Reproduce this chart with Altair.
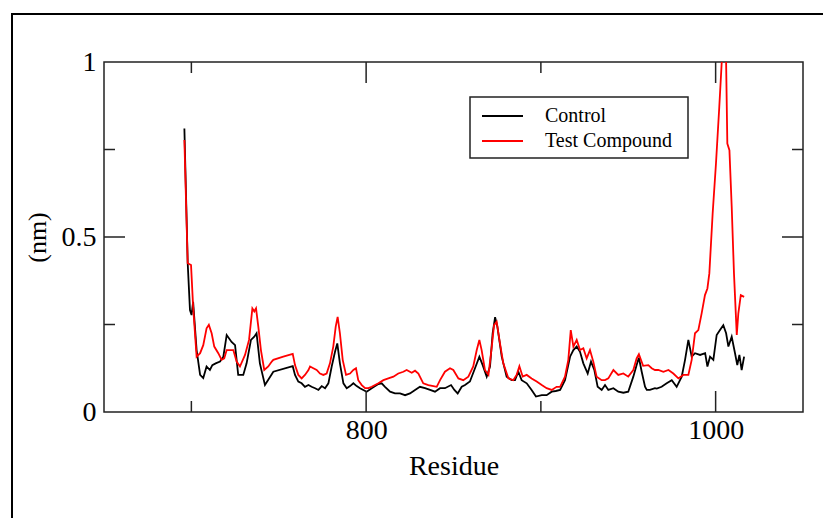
import altair as alt
import pandas as pd

# ---------------- data ----------------
ctrl_res = [696, 697.9, 699.2, 700.1, 701, 703, 705, 706.8, 708.7, 710.6, 712, 713.9, 716.4, 718.3,
            720.2, 723, 725, 726.8, 729.7, 731.6, 734.1, 736, 737.3, 739.2, 742.1, 744, 746.9, 758,
            759.3, 761.2, 763.1, 765, 767, 768.8, 770.8, 772.7, 774.6, 776.5, 778.4, 780.3, 782.2,
            783.5, 785, 787, 788.9, 790.8, 792.7, 794.6, 796.5, 798.4, 800.3, 803.2, 807, 808.9,
            810.8, 813.7, 816.5, 819.4, 822.3, 825.1, 828, 830.8, 833.7, 836.6, 839.4, 842.3, 845.1,
            848.6, 850.5, 852.4, 854.7, 856.6, 859.4, 862.3, 864.8, 866.7, 869, 870.9, 872.4, 873.8,
            875.1, 877.6, 880.4, 883.3, 885.2, 887.1, 889, 891.9, 894.7, 897.2, 900.5, 903.3, 906.2,
            908.5, 911, 913.8, 916.7, 918.6, 920.5, 922.4, 924.3, 926.8, 928.7, 930.6, 932.5, 934.8,
            936.7, 938.6, 941.5, 944.3, 947.2, 950, 952.9, 954.8, 956.1, 957.7, 959.6, 960.6, 962.4,
            965.3, 966.3, 969.1, 972, 974.9, 977.7, 980.6, 982.5, 984.4, 986.3, 988.2, 991.1, 994,
            995.3, 996.8, 998.7, 1000.6, 1002.5, 1004.4, 1006, 1007.3, 1009.2, 1011.1, 1012.4,
            1013.6, 1014.9, 1016.3]
ctrl_val = [0.81, 0.425, 0.291, 0.277, 0.315, 0.177, 0.106, 0.097, 0.130, 0.12, 0.134, 0.139, 0.144,
            0.158, 0.22, 0.20, 0.191, 0.106, 0.106, 0.139, 0.206, 0.215, 0.225, 0.139, 0.077, 0.092,
            0.115, 0.131, 0.106, 0.087, 0.082, 0.072, 0.077, 0.072, 0.068, 0.063, 0.074, 0.068, 0.082,
            0.130, 0.172, 0.196, 0.139, 0.082, 0.068, 0.074, 0.082, 0.074, 0.068, 0.063, 0.058, 0.068,
            0.080, 0.082, 0.072, 0.058, 0.053, 0.053, 0.048, 0.053, 0.063, 0.072, 0.068, 0.063, 0.058,
            0.068, 0.068, 0.077, 0.063, 0.053, 0.072, 0.077, 0.087, 0.125, 0.158, 0.134, 0.101, 0.130,
            0.225, 0.271, 0.244, 0.158, 0.101, 0.091, 0.091, 0.115, 0.091, 0.082, 0.063, 0.044, 0.048,
            0.048, 0.058, 0.06, 0.063, 0.091, 0.158, 0.177, 0.187, 0.172, 0.139, 0.110, 0.144, 0.120,
            0.072, 0.063, 0.077, 0.063, 0.068, 0.058, 0.055, 0.058, 0.101, 0.134, 0.155, 0.115, 0.072,
            0.063, 0.063, 0.068, 0.067, 0.072, 0.082, 0.091, 0.072, 0.101, 0.149, 0.206, 0.158, 0.168,
            0.163, 0.168, 0.130, 0.158, 0.149, 0.220, 0.234, 0.248, 0.225, 0.187, 0.215, 0.168, 0.134,
            0.163, 0.120, 0.158]

test_res = [696, 697.9, 699.8, 701, 703, 705, 706.8, 708.7, 710, 711.6, 713.1, 715.4, 717.3, 718.8,
            720.2, 724, 725.9, 727.8, 730.7, 733, 734.9, 736, 737, 738.3, 739.8, 741.7, 744, 746,
            746.9, 752.6, 758, 759.3, 761.2, 763.1, 765, 767, 767.9, 769.8, 771.7, 773.6, 775.5,
            777.4, 779.3, 781.2, 782.6, 783.7, 785, 786.6, 788.5, 790.8, 792.7, 794.2, 795.5, 797.5,
            799.4, 801.3, 803.2, 807, 809.9, 812.7, 815.6, 818.4, 821.3, 823.2, 826.1, 828, 829.9,
            832.7, 835.6, 838.5, 840.4, 842.3, 845.1, 848, 849.9, 852.8, 855.6, 858.5, 861.3, 863.3,
            864.8, 866.1, 868, 870, 871.8, 873.2, 874.7, 876.6, 878.5, 881.4, 884.2, 886.1, 887.7,
            889.6, 891.9, 894.7, 897.6, 900.5, 903.3, 906.2, 909, 911, 913.8, 915.7, 917.1, 918.6,
            920.5, 922.4, 924.3, 926.2, 928.1, 930, 931.9, 934.8, 936.7, 938.6, 941.5, 944.3, 947.2,
            950, 952.9, 954.8, 956.1, 958.5, 961.5, 963.4, 965.3, 967.2, 970.1, 973, 975.8, 978.7,
            981.5, 984.4, 986.3, 988.2, 990.1, 992, 993.9, 995.3, 996.4, 998.3, 1000.2, 1002.1,
            1003.5, 1004.8, 1006, 1006.7, 1007.9, 1009.2, 1010.5, 1012.1, 1013, 1014.4, 1016.3]
test_val = [0.777, 0.425, 0.42, 0.301, 0.158, 0.168, 0.191, 0.239, 0.249, 0.225, 0.187, 0.168, 0.149,
            0.153, 0.177, 0.177, 0.144, 0.130, 0.163, 0.206, 0.296, 0.287, 0.296, 0.244, 0.177, 0.120,
            0.130, 0.144, 0.149, 0.158, 0.166, 0.134, 0.106, 0.096, 0.106, 0.120, 0.130, 0.125, 0.120,
            0.110, 0.106, 0.110, 0.139, 0.187, 0.244, 0.272, 0.225, 0.149, 0.106, 0.110, 0.120, 0.125,
            0.091, 0.077, 0.068, 0.068, 0.072, 0.082, 0.091, 0.096, 0.101, 0.110, 0.115, 0.120, 0.112,
            0.118, 0.110, 0.082, 0.077, 0.074, 0.072, 0.091, 0.115, 0.125, 0.120, 0.096, 0.091, 0.101,
            0.130, 0.177, 0.206, 0.177, 0.120, 0.106, 0.182, 0.248, 0.258, 0.196, 0.139, 0.096, 0.091,
            0.106, 0.131, 0.101, 0.106, 0.096, 0.087, 0.077, 0.068, 0.063, 0.072, 0.072, 0.101, 0.149,
            0.234, 0.187, 0.206, 0.177, 0.182, 0.153, 0.177, 0.144, 0.101, 0.091, 0.091, 0.096, 0.120,
            0.106, 0.110, 0.101, 0.120, 0.153, 0.165, 0.132, 0.134, 0.125, 0.120, 0.120, 0.115, 0.120,
            0.110, 0.096, 0.106, 0.106, 0.149, 0.225, 0.234, 0.282, 0.334, 0.353, 0.396, 0.567, 0.710,
            0.872, 1.0, 1.03, 1.0, 0.767, 0.748, 0.587, 0.396, 0.220, 0.282, 0.334, 0.329]

series_names = ["Control", "Test Compound"]
series_colors = ["#000000", "#ff0000"]

x_label_values = [800, 1000]
y_label_values = [0, 0.5, 1]
x_tick_values = [700, 800, 900, 1000]
x_tick_major = [False, True, False, True]
y_tick_values = [0.25, 0.5, 0.75]
y_tick_major = [False, True, False]

# ---------------- layout ----------------
W, H = 699, 350
MAJOR, MINOR = 21, 11
FONT = "Liberation Serif"
AXIS_COLOR = "#222222"
LINE_W = 1.8

df = pd.concat([
    pd.DataFrame({"Residue": ctrl_res, "nm": ctrl_val, "Series": series_names[0]}),
    pd.DataFrame({"Residue": test_res, "nm": test_val, "Series": series_names[1]}),
], ignore_index=True)

xscale = alt.Scale(domain=[650, 1050], nice=False, zero=False)
yscale = alt.Scale(domain=[0, 1], nice=False, zero=False)

x_axis = alt.Axis(values=x_label_values, format="d", title="Residue", labelPadding=4,
                  titleBaseline="alphabetic", titleX=W / 2, titleY=62, titleAlign="center")
y_axis = alt.Axis(values=y_label_values, format="~g", title="(nm)", labelPadding=8,
                  titleAngle=270, titleBaseline="alphabetic", titleX=-59, titleY=H / 2,
                  titleAlign="center", titleFontSize=26)

lines = alt.Chart(df).mark_line(strokeWidth=LINE_W, clip=True).encode(
    x=alt.X("Residue:Q", scale=xscale, axis=x_axis),
    y=alt.Y("nm:Q", scale=yscale, axis=y_axis),
    color=alt.Color("Series:N", scale=alt.Scale(domain=series_names, range=series_colors),
                    legend=None),
)

xt = pd.DataFrame({"Residue": x_tick_values, "major": x_tick_major})
yt = pd.DataFrame({"nm": y_tick_values, "major": y_tick_major})

tick_layers = []
for major in (True, False):
    L = MAJOR if major else MINOR
    dx = xt[xt["major"] == major]
    dy = yt[yt["major"] == major]
    for y0, y1 in ((H, H - L), (0, L)):
        tick_layers.append(
            alt.Chart(dx).mark_rule(color=AXIS_COLOR, strokeWidth=1.5).encode(
                x=alt.X("Residue:Q", scale=xscale, axis=x_axis), y=alt.value(y0), y2=alt.value(y1)))
    for x0, x1 in ((0, L), (W, W - L)):
        tick_layers.append(
            alt.Chart(dy).mark_rule(color=AXIS_COLOR, strokeWidth=1.5).encode(
                y=alt.Y("nm:Q", scale=yscale, axis=y_axis), x=alt.value(x0), x2=alt.value(x1)))

# legend drawn as a small box with sample lines and labels
LEG_X0, LEG_X1, LEG_Y0, LEG_Y1 = 366, 584, 35, 96
leg_rows_y = [54, 79]
legend_layers = [
    alt.Chart(pd.DataFrame({"a": [0]})).mark_rect(
        fill="white", stroke=AXIS_COLOR, strokeWidth=1.5).encode(
        x=alt.value(LEG_X0), x2=alt.value(LEG_X1), y=alt.value(LEG_Y0), y2=alt.value(LEG_Y1))
]
for name, color, ry in zip(series_names, series_colors, leg_rows_y):
    row = pd.DataFrame({"Series": [name]})
    legend_layers.append(
        alt.Chart(row).mark_rule(color=color, strokeWidth=LINE_W).encode(
            x=alt.value(378), x2=alt.value(419), y=alt.value(ry)))
    legend_layers.append(
        alt.Chart(row).mark_text(align="left", baseline="middle", font=FONT, fontSize=20,
                                 color="black").encode(
            text="Series:N", x=alt.value(441), y=alt.value(ry)))

frame = alt.Chart(pd.DataFrame({"a": [0]})).mark_rect(
    fillOpacity=0, stroke="black", strokeWidth=2).encode(
    x=alt.value(-92), x2=alt.value(760), y=alt.value(-48), y2=alt.value(500))

chart = alt.layer(frame, lines, *tick_layers, *legend_layers).properties(
    width=W, height=H,
    autosize=alt.AutoSizeParams(type="none"),
    padding={"left": 104, "top": 62, "right": 20, "bottom": 106},
    background="white",
).configure_view(stroke=AXIS_COLOR, strokeWidth=1.5).configure_axis(
    labelFont=FONT, labelFontSize=28, labelColor="black",
    titleFont=FONT, titleFontSize=28, titleFontWeight="normal", titleColor="black",
    ticks=False, domain=False, grid=False,
)

chart.save("out.html", embed_options={"renderer": "svg", "actions": False})
